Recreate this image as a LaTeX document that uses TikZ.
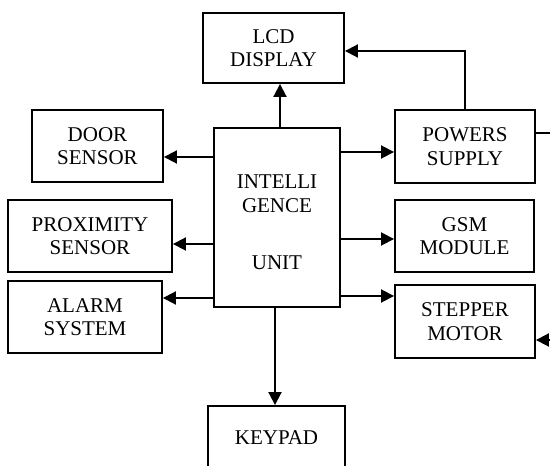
\documentclass[tikz,border=0pt]{standalone}
\usepackage{fontspec}
\setmainfont{Liberation Serif}
\usetikzlibrary{arrows.meta}

\begin{document}
\begin{tikzpicture}[x=1pt, y=1pt,
    box/.style={draw, line width=1.9pt, align=center, inner sep=0pt,
        font=\fontsize{21}{23.5}\selectfont},
    arr/.style={line width=1.9pt, -{Triangle[length=13pt, width=13pt]}},
    wire/.style={line width=1.9pt}]
    \useasboundingbox (0,0) rectangle (550,466);
    \clip (0,0) rectangle (550,466);

    % Control unit in the middle
    \node[box, minimum width=126, minimum height=179] (intel) at (277,248.5)
        {\rule{0pt}{24pt}INTELLI\\GENCE\\[34pt]UNIT};

    % Blocks around it
    \node[box, minimum width=141, minimum height=70] (lcd) at (273.5,418) {LCD\\DISPLAY};
    \node[box, minimum width=131, minimum height=72] (door) at (97.5,320) {DOOR\\SENSOR};
    \node[box, minimum width=164, minimum height=72] (prox) at (90,230) {PROXIMITY\\SENSOR};
    \node[box, minimum width=154, minimum height=72] (alarm) at (85,149) {ALARM\\SYSTEM};
    \node[box, minimum width=140, minimum height=73] (power) at (465,319.5) {POWERS\\SUPPLY};
    \node[box, minimum width=139, minimum height=72] (gsm) at (464.5,230) {GSM\\MODULE};
    \node[box, minimum width=140, minimum height=73] (stepper) at (465,144.5) {STEPPER\\MOTOR};
    \node[box, minimum width=137, minimum height=64] (keypad) at (276.5,28) {KEYPAD};

    % Outputs on the left
    \draw[arr] ([yshift=60.5pt]intel.west) -- ([yshift=60.5pt]intel.west -| door.east);
    \draw[arr] ([yshift=-26.5pt]intel.west) -- ([yshift=-26.5pt]intel.west -| prox.east);
    \draw[arr] ([yshift=-80.5pt]intel.west) -- ([yshift=-80.5pt]intel.west -| alarm.east);

    % Outputs on the right
    \draw[arr] ([yshift=65.5pt]intel.east) -- ([yshift=65.5pt]intel.east -| power.west);
    \draw[arr] ([yshift=-21.5pt]intel.east) -- ([yshift=-21.5pt]intel.east -| gsm.west);
    \draw[arr] ([yshift=-78.5pt]intel.east) -- ([yshift=-78.5pt]intel.east -| stepper.west);

    % Display and keypad
    \draw[arr] ([xshift=3pt]intel.north) -- ([xshift=3pt]intel.north |- lcd.south);
    \draw[arr] ([xshift=-2pt]intel.south) -- ([xshift=-2pt]intel.south |- keypad.north);
    \draw[arr] (power.north) |- ([yshift=-3pt]lcd.east);

    % Leads off the right edge
    \coordinate (pout) at (552,333);
    \coordinate (sin) at (552,126);
    \draw[wire] (power.east |- pout) -- (pout);
    \draw[arr] (sin) -- (sin -| stepper.east);
\end{tikzpicture}
\end{document}
